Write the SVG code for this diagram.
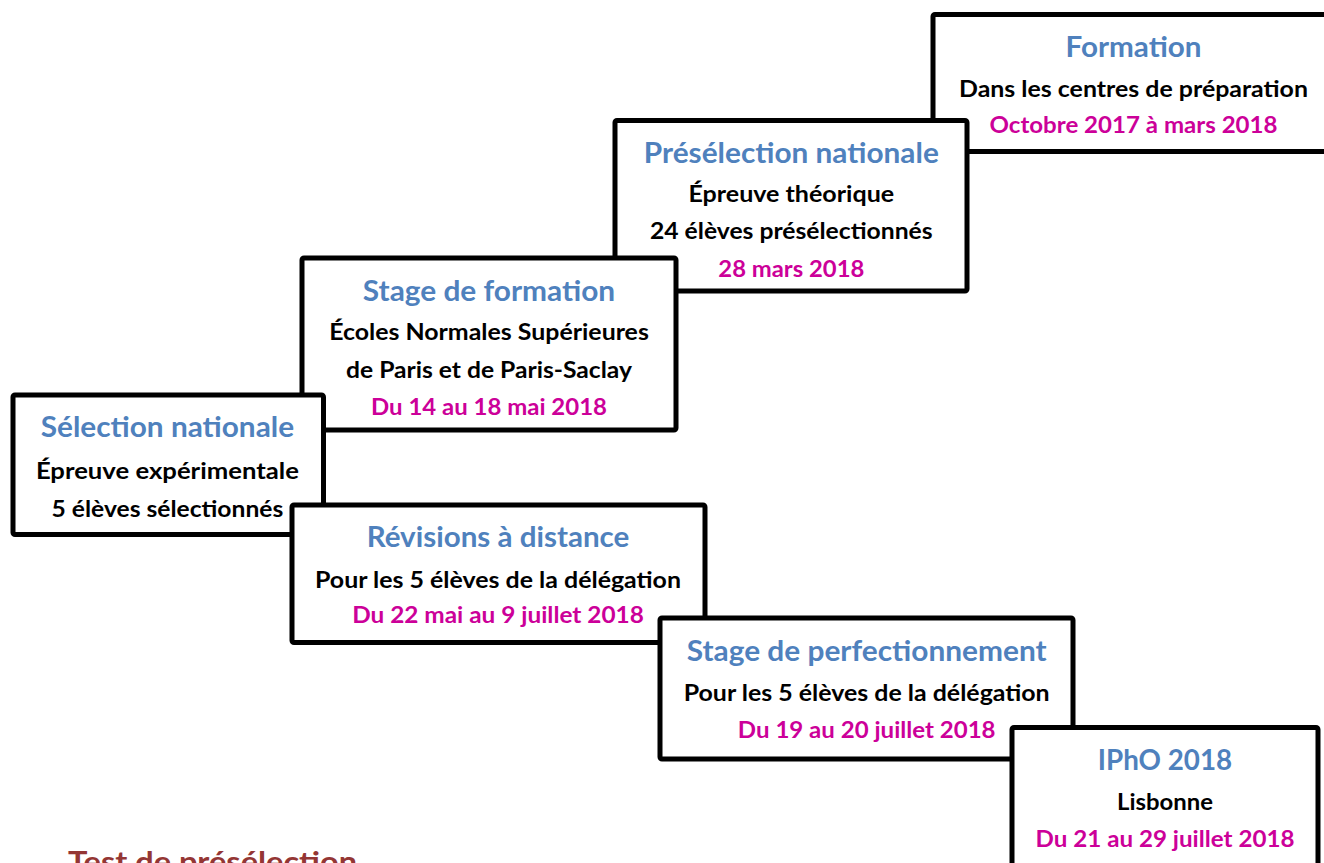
<svg xmlns="http://www.w3.org/2000/svg" width="1324" height="863" viewBox="0 0 1324 863">
<style>
.box{fill:#ffffff;stroke:#000000;stroke-width:5;stroke-linejoin:round}
text{font-family:Lato,"Open Sans","Liberation Sans",sans-serif;font-weight:bold;text-anchor:middle}
.t{font-size:28px;fill:#4F81BD}
.b{font-size:22px;fill:#000000}
.d{font-size:22px;fill:#CC0099}
.r{font-size:28px;fill:#943634;text-anchor:start}
</style>
<rect width="1324" height="863" fill="#ffffff"/>
<g id="connectors"></g>
<g id="formation">
<rect class="box" x="933" y="14.5" width="400" height="137" rx="2"/>
<text class="t" x="1133.5" y="57.3" textLength="136" lengthAdjust="spacingAndGlyphs">Formation</text>
<text class="b" x="1133.5" y="96.7" textLength="349" lengthAdjust="spacingAndGlyphs">Dans les centres de préparation</text>
<text class="d" x="1133.5" y="133.3" textLength="288" lengthAdjust="spacingAndGlyphs">Octobre 2017 à mars 2018</text>
</g>
<g id="preselection">
<rect class="box" x="615" y="120.5" width="352" height="170.5" rx="2"/>
<text class="t" x="791.3" y="162.7" textLength="295" lengthAdjust="spacingAndGlyphs">Présélection nationale</text>
<text class="b" x="791.3" y="201.7" textLength="205.7" lengthAdjust="spacingAndGlyphs">Épreuve théorique</text>
<text class="b" x="791.3" y="239.3" textLength="282.7" lengthAdjust="spacingAndGlyphs">24 élèves présélectionnés</text>
<text class="d" x="791.3" y="276.7" textLength="146" lengthAdjust="spacingAndGlyphs">28 mars 2018</text>
</g>
<g id="stage-formation">
<rect class="box" x="302" y="258" width="374" height="172" rx="2"/>
<text class="t" x="489" y="300.7" textLength="252.3" lengthAdjust="spacingAndGlyphs">Stage de formation</text>
<text class="b" x="489" y="340" textLength="319.7" lengthAdjust="spacingAndGlyphs">Écoles Normales Supérieures</text>
<text class="b" x="489" y="377.7" textLength="286" lengthAdjust="spacingAndGlyphs">de Paris et de Paris-Saclay</text>
<text class="d" x="489" y="415" textLength="236" lengthAdjust="spacingAndGlyphs">Du 14 au 18 mai 2018</text>
</g>
<g id="selection">
<rect class="box" x="13" y="395" width="310.5" height="139.5" rx="2"/>
<text class="t" x="167.4" y="436.5" textLength="253.3" lengthAdjust="spacingAndGlyphs">Sélection nationale</text>
<text class="b" x="167.4" y="479" textLength="263" lengthAdjust="spacingAndGlyphs">Épreuve expérimentale</text>
<text class="b" x="167.4" y="517.3" textLength="231.7" lengthAdjust="spacingAndGlyphs">5 élèves sélectionnés</text>
</g>
<g id="revisions">
<rect class="box" x="292" y="505" width="413" height="137.5" rx="2"/>
<text class="t" x="498" y="546.7" textLength="262.7" lengthAdjust="spacingAndGlyphs">Révisions à distance</text>
<text class="b" x="498" y="587.7" textLength="366" lengthAdjust="spacingAndGlyphs">Pour les 5 élèves de la délégation</text>
<text class="d" x="498" y="623.3" textLength="291.7" lengthAdjust="spacingAndGlyphs">Du 22 mai au 9 juillet 2018</text>
</g>
<g id="perfectionnement">
<rect class="box" x="660" y="618" width="413" height="141" rx="2"/>
<text class="t" x="866.7" y="661" textLength="360" lengthAdjust="spacingAndGlyphs">Stage de perfectionnement</text>
<text class="b" x="866.7" y="701" textLength="366" lengthAdjust="spacingAndGlyphs">Pour les 5 élèves de la délégation</text>
<text class="d" x="866.7" y="737.7" textLength="257.7" lengthAdjust="spacingAndGlyphs">Du 19 au 20 juillet 2018</text>
</g>
<g id="ipho">
<rect class="box" x="1012" y="727.5" width="306" height="150" rx="2"/>
<text class="t" x="1165" y="770" textLength="134.3" lengthAdjust="spacingAndGlyphs">IPhO 2018</text>
<text class="b" x="1165" y="810" textLength="96" lengthAdjust="spacingAndGlyphs">Lisbonne</text>
<text class="d" x="1165" y="847.3" textLength="259" lengthAdjust="spacingAndGlyphs">Du 21 au 29 juillet 2018</text>
</g>
<g id="test-preselection">
<text class="r" x="68" y="872" textLength="289" lengthAdjust="spacingAndGlyphs">Test de présélection</text>
</g>
</svg>
